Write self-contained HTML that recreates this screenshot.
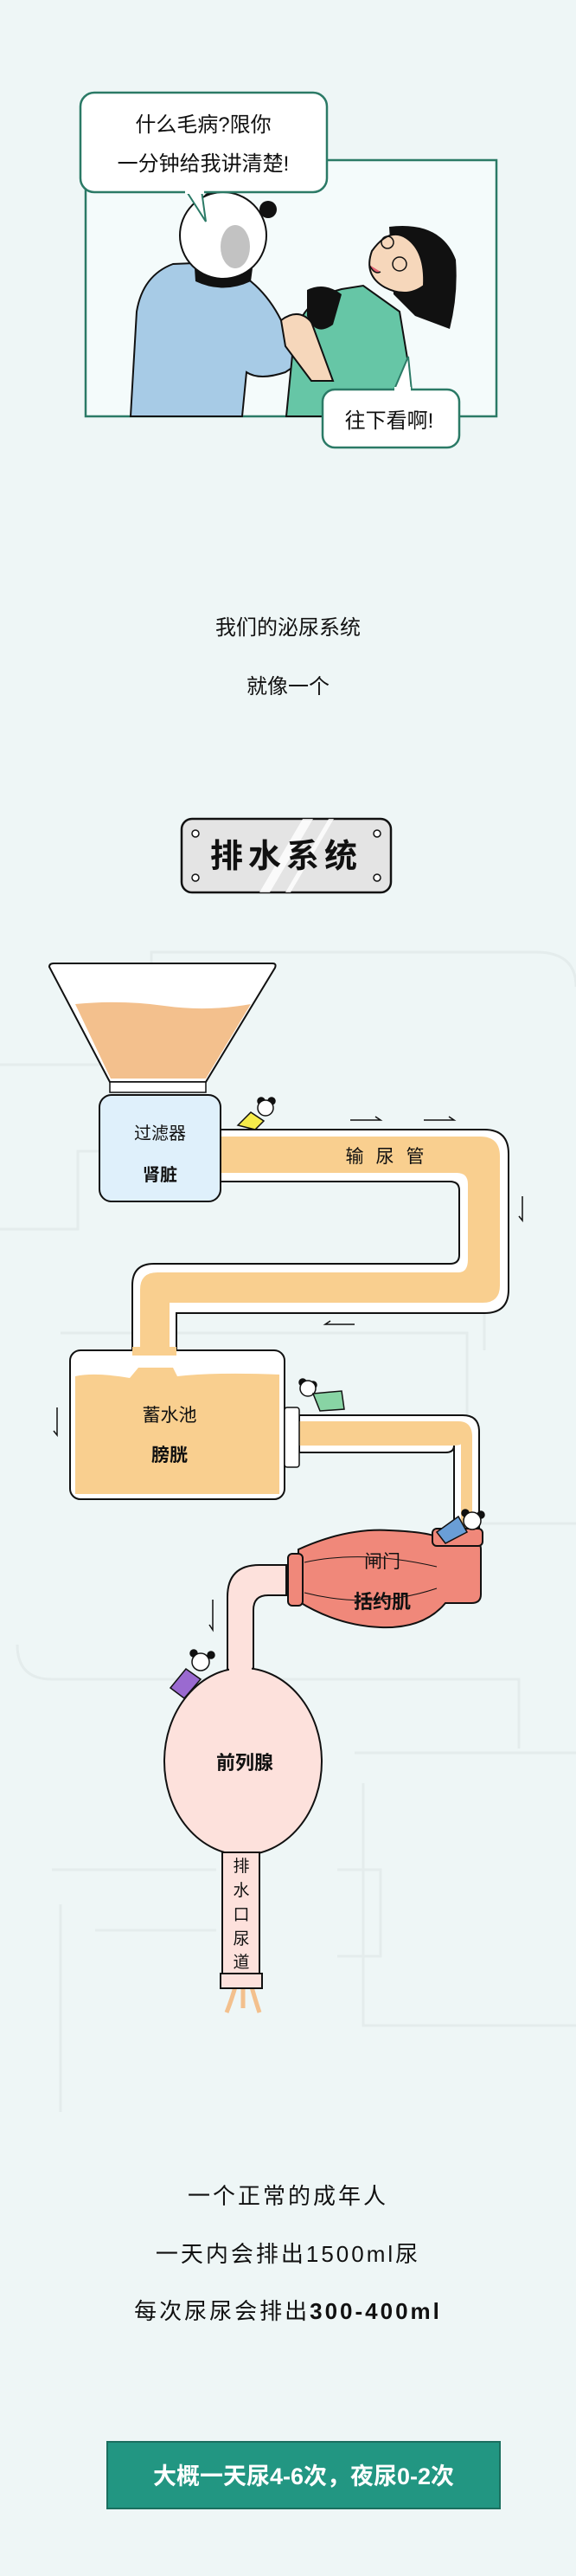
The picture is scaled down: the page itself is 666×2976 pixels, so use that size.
<!DOCTYPE html>
<html><head><meta charset="utf-8"><style>
html,body{margin:0;padding:0;background:#eef6f6}
body{width:666px;height:2976px;position:relative;overflow:hidden;font-family:"Liberation Sans","Noto Sans CJK SC",sans-serif}
svg{position:absolute;left:0;top:0}
svg text{font-family:"Liberation Sans","Noto Sans CJK SC",sans-serif}
</style></head><body>
<svg width="666" height="2976" viewBox="0 0 666 2976" xmlns="http://www.w3.org/2000/svg">
<rect width="666" height="2976" fill="#eef6f6"/>
<!-- faint background pipes -->
<g fill="none" stroke="#e4ecec" stroke-width="3">
<path d="M0 1230 H160 Q175 1230 175 1215 V1100 H620 Q666 1100 666 1140"/>
<path d="M0 1420 H90 V1330 H500 Q560 1330 560 1380 V1560"/>
<path d="M70 1540 H540 V1760 H666"/>
<path d="M20 1900 Q20 1940 60 1940 H600 V2020"/>
<path d="M410 2025 H666 M420 2060 V2340 H666"/>
<path d="M60 2160 H250 M70 2200 V2440 M110 2230 H250"/>
<path d="M390 2160 H440 V2260 H390"/>
</g>
<!-- Comic panel -->
<rect x="99" y="185" width="475" height="296" fill="#f4fbfb" stroke="#2b7a66" stroke-width="2.5"/>
<!-- blue robe -->
<path d="M151 481 L158 360 Q165 318 200 305 L250 303 Q300 320 325 370 L345 420 L330 430 Q300 440 285 430 L280 481 Z" fill="#a7cbe6" stroke="#111" stroke-width="2"/>
<!-- green shirt -->
<path d="M331 481 L340 390 Q350 345 395 334 L420 330 L462 360 L472 420 L470 481 Z" fill="#66c6a6" stroke="#111" stroke-width="2"/>
<!-- hand -->
<path d="M325 370 Q345 355 360 372 L385 440 L360 440 L330 400 Z" fill="#f6d7bb" stroke="#111" stroke-width="2"/>
<path d="M355 335 Q375 325 395 340 L385 375 Q365 390 355 365 Z" fill="#111"/>
<!-- woman hair & face -->
<path d="M450 262 Q510 255 527 300 Q530 340 520 380 L480 365 L455 340 Z" fill="#111"/>
<path d="M430 290 Q450 262 470 275 Q492 290 490 330 Q470 345 445 332 Q420 318 430 290 Z" fill="#f6d7bb" stroke="#111" stroke-width="2"/>
<circle cx="448" cy="280" r="7" fill="none" stroke="#111" stroke-width="1.5"/>
<circle cx="462" cy="305" r="8" fill="none" stroke="#111" stroke-width="1.5"/>
<path d="M427 306 Q433 318 440 314" fill="#e06070" stroke="#111" stroke-width="1.5"/>
<!-- panda head -->
<path d="M225 310 Q258 330 292 310 L290 325 Q258 340 226 325 Z" fill="#111"/>
<circle cx="244" cy="232" r="10" fill="#111"/>
<circle cx="310" cy="242" r="10" fill="#111"/>
<circle cx="258" cy="272" r="50" fill="#fff" stroke="#111" stroke-width="2"/>
<ellipse cx="272" cy="285" rx="17" ry="25" fill="#9a9a9a" opacity="0.6"/>
<!-- bubble 1 -->
<path d="M215 220 L238 256 L233 220 Z" fill="#fff" stroke="#2b7a66" stroke-width="2"/>
<rect x="93" y="107" width="285" height="115" rx="16" fill="#fff" stroke="#2b7a66" stroke-width="2.5"/>
<rect x="214" y="218" width="22" height="6" fill="#fff"/>
<text x="235" y="152" text-anchor="middle" font-size="24" fill="#111">什么毛病?限你</text>
<text x="235" y="197" text-anchor="middle" font-size="24" fill="#111">一分钟给我讲清楚!</text>
<!-- bubble 2 -->
<path d="M455 452 L472 412 L476 452 Z" fill="#fff" stroke="#2b7a66" stroke-width="2"/>
<rect x="373" y="450" width="158" height="67" rx="14" fill="#fff" stroke="#2b7a66" stroke-width="2.5"/>
<rect x="456" y="447" width="19" height="6" fill="#fff"/>
<text x="450" y="494" text-anchor="middle" font-size="24" fill="#111">往下看啊!</text>

<text x="333" y="733" text-anchor="middle" font-size="24" fill="#111">我们的泌尿系统</text>
<text x="333" y="801" text-anchor="middle" font-size="24" fill="#111">就像一个</text>

<!-- title plate -->
<rect x="210" y="946" width="242" height="85" rx="12" fill="#e4e4e4" stroke="#111" stroke-width="2.5"/>
<path d="M300 1031 L350 946 L362 946 L312 1031 Z M330 1031 L380 946 L386 946 L336 1031 Z" fill="#fff" opacity="0.8"/>
<circle cx="226" cy="963" r="4" fill="#fff" stroke="#111" stroke-width="1.5"/>
<circle cx="436" cy="963" r="4" fill="#fff" stroke="#111" stroke-width="1.5"/>
<circle cx="226" cy="1014" r="4" fill="#fff" stroke="#111" stroke-width="1.5"/>
<circle cx="436" cy="1014" r="4" fill="#fff" stroke="#111" stroke-width="1.5"/>
<text x="331" y="1002" text-anchor="middle" font-size="38" font-weight="bold" fill="#111" letter-spacing="6">排水系统</text>

<!-- funnel -->
<path d="M57 1117 Q57 1113 62 1113 H315 Q320 1113 318 1118 L238 1250 H127 Z" fill="#fff" stroke="#111" stroke-width="2"/>
<path d="M87 1160 Q140 1155 190 1162 T290 1160 L238 1246 H128 Z" fill="#f3c08d"/>
<rect x="127" y="1250" width="111" height="12" fill="#fff" stroke="#111" stroke-width="1.5"/>
<!-- ureter pipe -->
<path d="M255 1305 H560 Q588 1305 588 1333 V1490 Q588 1517 560 1517 H204 V1562 H153 V1485 Q153 1460 178 1460 H520 Q531 1460 531 1450 V1375 Q531 1365 520 1365 H255 Z" fill="#fff" stroke="#111" stroke-width="2"/>
<path d="M255 1313 H555 Q578 1313 578 1336 V1485 Q578 1505 558 1505 H196 V1560 H162 V1490 Q162 1470 182 1470 H530 Q541 1470 541 1455 V1368 Q541 1355 528 1355 H255 Z" fill="#f9cf8f"/>
<text x="452" y="1343" text-anchor="middle" font-size="21" fill="#111" letter-spacing="14">输尿管</text>
<!-- arrows -->
<g stroke="#111" stroke-width="1.5" fill="none">
<path d="M405 1294 H440 L434 1290"/><path d="M490 1294 H525 L519 1290"/>
<path d="M604 1382 V1410 L600 1405"/><path d="M410 1530 H376 L382 1526"/>
<path d="M66 1626 V1658 L62 1653"/><path d="M246 1848 V1883 L242 1877"/>
</g>
<!-- kidney -->
<rect x="115" y="1265" width="140" height="123" rx="14" fill="#dff0fb" stroke="#111" stroke-width="2"/>
<text x="185" y="1316" text-anchor="middle" font-size="20" fill="#111">过滤器</text>
<text x="185" y="1364" text-anchor="middle" font-size="20" font-weight="bold" fill="#111">肾脏</text>
<!-- bladder to sphincter pipe -->
<path d="M346 1635 H535 Q554 1635 554 1654 V1775 H525 V1670 Q525 1678 515 1678 H346 Z" fill="#fff" stroke="#111" stroke-width="2"/>
<path d="M346 1642 H530 Q546 1642 546 1660 V1775 H533 V1668 Q533 1670 520 1670 H346 Z" fill="#f9cf8f"/>
<!-- bladder -->
<rect x="81" y="1560" width="248" height="172" rx="12" fill="#fff" stroke="#111" stroke-width="2"/>
<path d="M87 1590 Q110 1585 150 1592 L160 1580 L200 1580 L205 1590 Q250 1585 323 1588 V1726 H87 Z" fill="#f9cf8f"/>
<rect x="153" y="1556" width="51" height="10" fill="#f9cf8f"/>
<rect x="329" y="1626" width="17" height="69" rx="3" fill="#fff" stroke="#111" stroke-width="1.5"/>
<text x="196" y="1642" text-anchor="middle" font-size="21" fill="#111">蓄水池</text>
<text x="196" y="1688" text-anchor="middle" font-size="21" font-weight="bold" fill="#111">膀胱</text>
<!-- pink urethra upper -->
<path d="M331 1808 H300 Q263 1808 263 1845 V1930 H293 V1860 Q293 1843 310 1843 H331 Z" fill="#fde1dc" stroke="#111" stroke-width="2"/>
<!-- prostate -->
<ellipse cx="281" cy="2035" rx="91" ry="108" fill="#fde1dc" stroke="#111" stroke-width="2"/>
<rect x="265" y="1920" width="26" height="14" fill="#fde1dc"/>
<text x="283" y="2044" text-anchor="middle" font-size="22" font-weight="bold" fill="#111">前列腺</text>
<!-- urethra tube -->
<path d="M273 2292 Q268 2310 262 2325 M290 2292 Q295 2310 300 2325 M281 2292 V2320" stroke="#f3c08d" stroke-width="5" fill="none"/>
<rect x="257" y="2140" width="43" height="145" fill="#fde1dc" stroke="#111" stroke-width="2"/>
<rect x="255" y="2280" width="48" height="17" fill="#fde1dc" stroke="#111" stroke-width="2"/>
<g font-size="19" fill="#111" text-anchor="middle">
<text x="279" y="2162">排</text><text x="279" y="2190">水</text><text x="279" y="2218">口</text><text x="279" y="2246">尿</text><text x="279" y="2273">道</text>
</g>
<!-- sphincter -->
<path d="M345 1790 Q400 1765 450 1768 Q500 1770 510 1778 L545 1778 Q556 1780 556 1790 V1842 Q556 1852 545 1852 H515 Q490 1882 440 1880 Q390 1878 345 1850 Z" fill="#f0887a" stroke="#111" stroke-width="2"/>
<rect x="333" y="1795" width="17" height="60" rx="5" fill="#f0887a" stroke="#111" stroke-width="2"/>
<rect x="500" y="1766" width="58" height="20" rx="5" fill="#f0887a" stroke="#111" stroke-width="2"/>
<path d="M352 1805 Q420 1790 505 1810 M352 1840 Q430 1860 505 1835" stroke="#111" stroke-width="1" fill="none"/>
<text x="442" y="1811" text-anchor="middle" font-size="21" fill="#111">闸门</text>
<text x="442" y="1858" text-anchor="middle" font-size="22" font-weight="bold" fill="#111">括约肌</text>
<!-- pandas -->
<g stroke="#111" stroke-width="1.5">
<circle cx="302" cy="1272" r="4" fill="#111"/><circle cx="314" cy="1272" r="4" fill="#111"/>
<circle cx="307" cy="1280" r="9" fill="#fff"/>
<path d="M275 1300 L290 1285 L305 1295 L295 1305 Z" fill="#f6ec4a"/>
<circle cx="350" cy="1597" r="4" fill="#111"/><circle cx="362" cy="1600" r="4" fill="#111"/>
<circle cx="356" cy="1604" r="9" fill="#fff"/>
<path d="M362 1610 L395 1607 L398 1628 L370 1630 Z" fill="#88d4a4"/>
<circle cx="538" cy="1748" r="4" fill="#111"/><circle cx="556" cy="1750" r="4" fill="#111"/>
<circle cx="546" cy="1757" r="10" fill="#fff"/>
<path d="M505 1770 L530 1752 L540 1770 L515 1783 Z" fill="#6a9ed6"/>
<circle cx="224" cy="1910" r="4" fill="#111"/><circle cx="244" cy="1912" r="4" fill="#111"/>
<circle cx="232" cy="1920" r="10" fill="#fff"/>
<path d="M197 1950 L215 1928 L232 1940 L213 1962 Z" fill="#9a6ad0"/>
</g>

<!-- stats -->
<text x="333" y="2546" text-anchor="middle" font-size="26" fill="#111" letter-spacing="3">一个正常的成年人</text>
<text x="333" y="2613" text-anchor="middle" font-size="26" fill="#111" letter-spacing="3">一天内会排出1500ml尿</text>
<text x="333" y="2679" text-anchor="middle" font-size="26" fill="#111" letter-spacing="3">每次尿尿会排出<tspan font-weight="bold">300-400ml</tspan></text>
<rect x="124" y="2821" width="454" height="77" fill="#229682" stroke="#1b6f5f" stroke-width="2"/>
<text x="351" y="2870" text-anchor="middle" font-size="27" font-weight="bold" fill="#fff">大概一天尿4-6次，夜尿0-2次</text>
</svg>
</body></html>
